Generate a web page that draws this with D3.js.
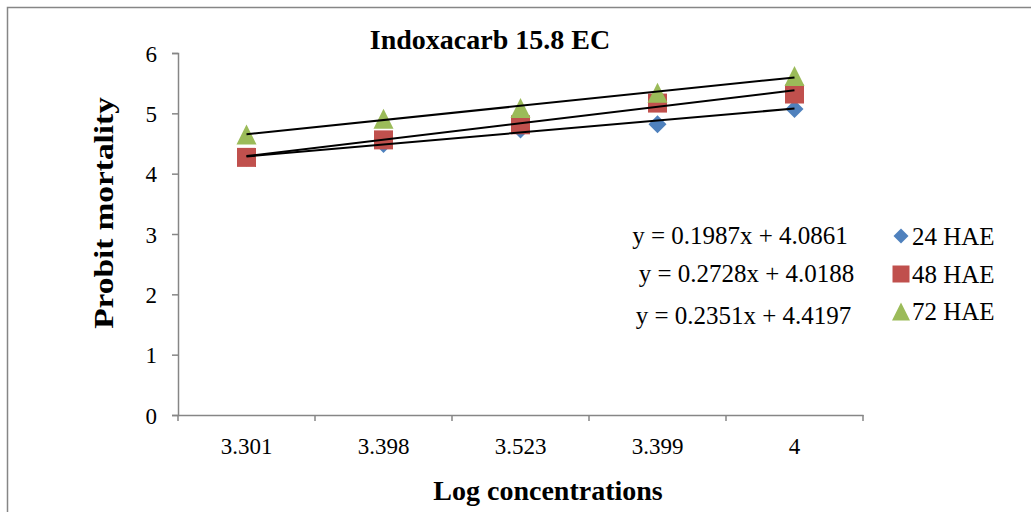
<!DOCTYPE html>
<html>
<head>
<meta charset="utf-8">
<script src="https://cdn.jsdelivr.net/npm/d3@7"></script>
<style>
  body { margin: 0; background: #fff; }
  text { font-family: "Liberation Serif", "Times New Roman", serif; fill: #000; }
</style>
</head>
<body>
<div id="okvir"></div>
<script>
// podaci
const kategorije = ["3.301", "3.398", "3.523", "3.399", "4"];
const serije = ["24 HAE", "48 HAE", "72 HAE"];
const h24 = [4.27, 4.49, 4.73, 4.82, 5.07];
const h48 = [4.27, 4.56, 4.81, 5.17, 5.32];
const h72 = [4.65, 4.91, 5.09, 5.34, 5.62];
const nagibi = [0.1987, 0.2728, 0.2351];
const odsjecci = [4.0861, 4.0188, 4.4197];
const jednadzbe = ["y = 0.1987x + 4.0861", "y = 0.2728x + 4.0188", "y = 0.2351x + 4.4197"];
const yTicks = [0, 1, 2, 3, 4, 5, 6];
const boje = ["#4F81BD", "#C0504D", "#9BBB59"];

const sirina = 1031, visina = 512;
const dim = { left: 178, right: 863, top: 53, bottom: 415 };

// oblici markera (kao u Excelu)
function oblik(tip, w) {
  const p = d3.path(), h = w / 2;
  if (tip === 0) { // romb
    p.moveTo(0, -h); p.lineTo(h, 0); p.lineTo(0, h); p.lineTo(-h, 0);
  } else if (tip === 1) { // kvadrat
    p.rect(-h, -h, w, w);
  } else { // trokut
    p.moveTo(0, -h); p.lineTo(h, h); p.lineTo(-h, h);
  }
  p.closePath();
  return p.toString();
}

const svg = d3.select("#okvir").append("svg")
  .attr("width", sirina).attr("height", visina);

// okvir grafa
svg.append("rect")
  .attr("x", 7.5).attr("y", 7.5)
  .attr("width", 1030).attr("height", 520)
  .attr("fill", "none").attr("stroke", "#868686").attr("stroke-width", 1.5);

const xSkala = d3.scaleBand().domain(kategorije).range([dim.left, dim.right]);
const ySkala = d3.scaleLinear().domain([0, 6]).range([dim.bottom, dim.top]);

// y os
const yOs = svg.append("g")
  .attr("transform", `translate(${dim.left},0)`)
  .call(d3.axisLeft(ySkala).tickValues(yTicks).tickSize(6).tickPadding(15).tickFormat(d3.format("d")));
yOs.select(".domain").attr("stroke", "#868686").attr("stroke-width", 1.5);
yOs.selectAll(".tick line").attr("stroke", "#868686").attr("stroke-width", 1.5);
yOs.selectAll(".tick text").style("font-size", "23px").attr("dy", "0.35em");

// x os
const xOs = svg.append("g")
  .attr("transform", `translate(0,${dim.bottom})`)
  .call(d3.axisBottom(xSkala).tickSize(0).tickPadding(23));
xOs.select(".domain").attr("stroke", "#868686").attr("stroke-width", 1.5);
xOs.selectAll(".tick text").style("font-size", "23px");
// crtice izmedju kategorija
const granice = kategorije.map(k => xSkala(k)).concat([dim.right]);
xOs.selectAll(".crtica").data(granice).enter().append("line")
  .attr("x1", d => d).attr("x2", d => d)
  .attr("y1", 0).attr("y2", 6)
  .attr("stroke", "#868686").attr("stroke-width", 1.5);

const cx = k => xSkala(k) + xSkala.bandwidth() / 2;

// tocke
const podaci = [h24, h48, h72];
const velicine = [18, 19, 20];
podaci.forEach((niz, s) => {
  svg.append("g").selectAll("path").data(niz).enter().append("path")
    .attr("d", oblik(s, velicine[s]))
    .attr("transform", (d, i) => `translate(${cx(kategorije[i])},${ySkala(d)})`)
    .attr("fill", boje[s]);
});

// linije trenda
nagibi.forEach((a, s) => {
  const prva = 1, zadnja = kategorije.length;
  svg.append("line")
    .attr("x1", cx(kategorije[0])).attr("y1", ySkala(a * prva + odsjecci[s]))
    .attr("x2", cx(kategorije[zadnja - 1])).attr("y2", ySkala(a * zadnja + odsjecci[s]))
    .attr("stroke", "#000").attr("stroke-width", 2);
});

// jednadzbe
const jedX = [740, 746.5, 743.5], jedY = [244, 282, 324];
jednadzbe.forEach((t, i) => {
  svg.append("text").attr("x", jedX[i]).attr("y", jedY[i])
    .attr("text-anchor", "middle").style("font-size", "25px").text(t);
});

// legenda
const legY = [245, 283, 320];
const legMark = [236, 274, 311.5];
const legVel = [15, 17, 18];
serije.forEach((s, i) => {
  svg.append("path")
    .attr("d", oblik(i, legVel[i]))
    .attr("transform", `translate(901,${legMark[i]})`)
    .attr("fill", boje[i]);
  svg.append("text").attr("x", 912).attr("y", legY[i])
    .style("font-size", "25px").text(s);
});

// naslovi
svg.append("text").attr("x", 490).attr("y", 49).attr("text-anchor", "middle")
  .style("font-size", "28px").style("font-weight", "bold").text("Indoxacarb 15.8 EC");
svg.append("text").attr("x", 548).attr("y", 500).attr("text-anchor", "middle")
  .style("font-size", "28px").style("font-weight", "bold").text("Log concentrations");
svg.append("text").attr("transform", "translate(113,213) rotate(-90) scale(1.19,1)").attr("text-anchor", "middle")
  .style("font-size", "28px").style("font-weight", "bold").text("Probit mortality");
</script>
</body>
</html>
